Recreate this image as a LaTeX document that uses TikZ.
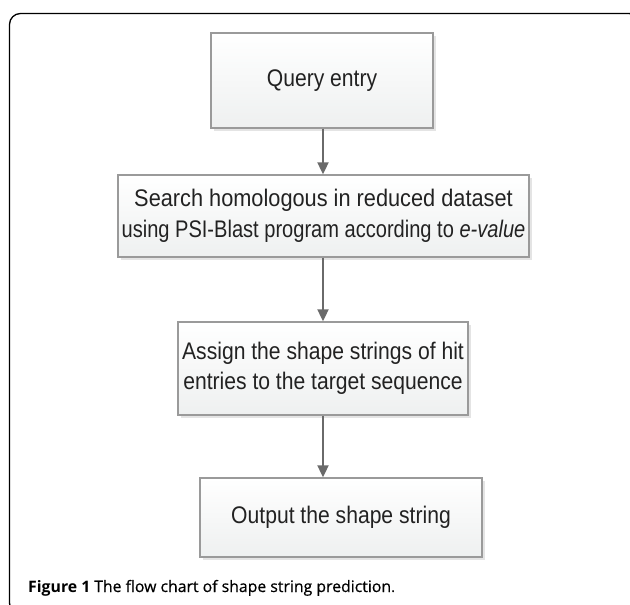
\documentclass[tikz,border=0pt]{standalone}
\usepackage{fontspec}
\usepackage{graphicx}
\setmainfont{Liberation Sans}[FakeStretch=0.88]
\newfontfamily\capfont{Open Sans}
\newfontfamily\capmed{Open Sans}[FakeBold=0.5]
\usetikzlibrary{shadows,arrows.meta}
\definecolor{boxborder}{HTML}{9A9A9A}
\definecolor{boxbottom}{HTML}{EEF0F0}
\definecolor{shadowgray}{HTML}{E4E4E4}
\definecolor{arrowgray}{HTML}{6A6A6A}
\definecolor{textdark}{HTML}{222222}
\tikzset{
  flowbox/.style={draw=boxborder, line width=1.3pt, top color=white, bottom color=boxbottom,
    drop shadow={shadow xshift=3pt, shadow yshift=-3pt, fill=shadowgray, opacity=1},
    align=center, inner sep=0pt, text=textdark, font=\fontsize{24}{30.5}\selectfont},
  flowarrow/.style={draw=arrowgray, line width=1.8pt, -{Triangle[length=12pt,width=11pt]}},
  frame/.style={draw=black, line width=1.3pt, rounded corners=11pt}
}
\begin{document}
\begin{tikzpicture}[x=1pt,y=-1pt]
\useasboundingbox (0,0) rectangle (630,605);
\clip (0,0) rectangle (630,605);
\fill[white] (0,0) rectangle (630,605);
\draw[frame] (9.5,13.5) rectangle (640,614);
\node[flowbox, minimum width=222pt, minimum height=95pt] (q) at (322,80.5) {Query entry};
\node[flowbox, minimum width=411pt, minimum height=82pt] (s) at (323.5,216) {\scalebox{1.03}[1]{Search homologous in reduced dataset}\\\scalebox{0.95}[1]{using PSI-Blast program according to \textit{e-value}}};
\node[flowbox, minimum width=290pt, minimum height=93pt] (a) at (323,368.5) {Assign the shape strings of hit\\entries to the target sequence};
\node[flowbox, minimum width=282pt, minimum height=79pt] (o) at (341,517.5) {Output the shape string};
\draw[flowarrow] (q.south -| 323,0) -- (s.north -| 323,0);
\draw[flowarrow] (s.south -| 323,0) -- (a.north -| 323,0);
\draw[flowarrow] (a.south -| 323,0) -- (o.north -| 323,0);
\node[anchor=base west, font=\fontsize{15.8}{18}\selectfont, text=black, inner sep=0pt] (cap) at (28,592) {{\capfont\bfseries Figure 1} {\capmed The flow chart of shape string prediction}{\capfont .}};
\end{tikzpicture}
\end{document}
